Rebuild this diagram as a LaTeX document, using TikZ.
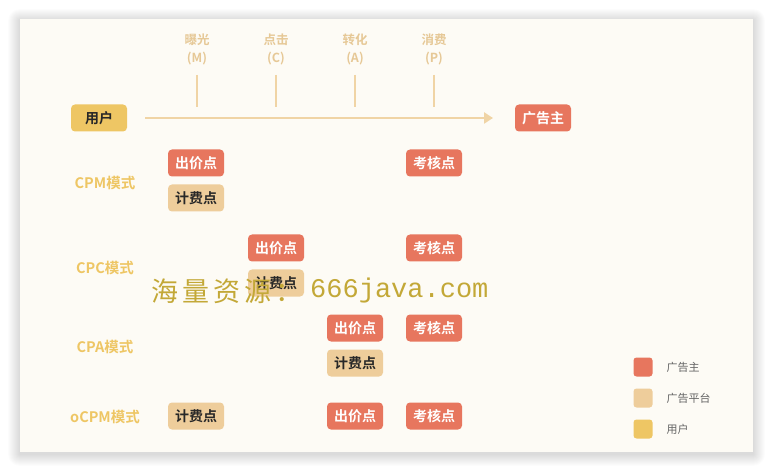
\documentclass[tikz,border=0pt]{standalone}
\usepackage{fontspec}
\setmainfont{Noto Sans CJK SC}
\newfontfamily\cjkb{Noto Sans CJK SC}[BoldFont={* Bold}]
\newfontfamily\wmmono{Liberation Mono}
\usetikzlibrary{arrows.meta}
\definecolor{adred}{RGB}{231,118,94}
\definecolor{adtan}{RGB}{238,205,155}
\definecolor{aduser}{RGB}{238,198,100}
\definecolor{cardbg}{RGB}{253,251,245}
\definecolor{toptxt}{RGB}{230,200,150}
\definecolor{arrowc}{RGB}{240,212,165}
\definecolor{legtxt}{RGB}{100,100,100}
\definecolor{darktxt}{RGB}{40,40,40}
\definecolor{wmcol}{RGB}{195,168,55}
\tikzset{
  tag/.style={rounded corners=4pt, minimum width=56pt, minimum height=27pt, inner sep=0pt, font=\cjkb\bfseries\fontsize{14}{14}\selectfont},
  redtag/.style={tag, fill=adred, text=white},
  tantag/.style={tag, fill=adtan, text=darktxt},
  usertag/.style={tag, fill=aduser, text=darktxt},
  rowlab/.style={text=aduser, font=\cjkb\bfseries\fontsize{14.5}{14.5}\selectfont},
  toplab/.style={text=toptxt, align=center, font=\cjkb\bfseries\fontsize{12.5}{18}\selectfont},
  tick/.style={draw=arrowc, line width=1.6pt},
  legsq/.style={rounded corners=3pt, minimum size=19pt, inner sep=0pt},
  legtext/.style={text=legtxt, anchor=west, font=\cjkb\fontsize{11}{11}\selectfont},
}
\begin{document}
\begin{tikzpicture}[x=1pt,y=-1pt]
\useasboundingbox (0,0) rectangle (774,473);
\fill[white] (0,0) rectangle (774,473);
% shadow
\foreach \d in {1,2,...,12}{
  \fill[black,opacity=0.012,rounded corners=\d pt] (20-\d,19-\d+2) rectangle (753+\d,452+\d+2);
}
\fill[cardbg] (20,19) rectangle (753,452);
% top labels
\node[toplab] (tm) at (197,49) {曝光\\(M)};
\node[toplab] (tc) at (276,49) {点击\\(C)};
\node[toplab] (ta) at (355,49) {转化\\(A)};
\node[toplab] (tp) at (434,49) {消费\\(P)};
\foreach \x/\n in {197/m,276/c,355/a,434/p}{
  \coordinate (t\n1) at (\x,75); \coordinate (t\n2) at (\x,107);
  \draw[tick] (t\n1) -- (t\n2);
}
% main line
\node[usertag] (user) at (99,118) {用户};
\node[redtag] (adv) at (543,118) {广告主};
\coordinate (as) at (145,118);
\coordinate (ae) at (493,118);
\draw[draw=arrowc, line width=2.2pt, -{Triangle[length=9pt,width=11pt]}] (as) -- (ae);
% rows
\node[rowlab] (cpm) at (105,183) {CPM模式};
\node[rowlab] (cpc) at (105,268) {CPC模式};
\node[rowlab] (cpa) at (105,347) {CPA模式};
\node[rowlab] (ocpm) at (105,417) {oCPM模式};
% CPM
\node[redtag] (cpmbid) at (196,163) {出价点};
\node[tantag] (cpmfee) at (196,198) {计费点};
\node[redtag] (cpmchk) at (434,163) {考核点};
% CPC
\node[redtag] (cpcbid) at (276,248) {出价点};
\node[tantag] (cpcfee) at (276,283) {计费点};
\node[redtag] (cpcchk) at (434,248) {考核点};
% CPA
\node[redtag] (cpabid) at (355,328) {出价点};
\node[tantag] (cpafee) at (355,363) {计费点};
\node[redtag] (cpachk) at (434,328) {考核点};
% oCPM
\node[tantag] (ocfee) at (196,416) {计费点};
\node[redtag] (ocbid) at (355,416) {出价点};
\node[redtag] (occhk) at (434,416) {考核点};
% legend
\node[legsq, fill=adred] (l1) at (643,367) {};
\node[legsq, fill=adtan] (l2) at (643,398) {};
\node[legsq, fill=aduser] (l3) at (643,429) {};
\node[legtext] (l1t) at (663,367) {广告主};
\node[legtext] (l2t) at (663,398) {广告平台};
\node[legtext] (l3t) at (663,429) {用户};
% watermark
\node[text=wmcol, anchor=west, inner sep=0pt, font=\fontsize{27}{27}\selectfont] (wm) at (151,291) {海\hspace{4pt}量\hspace{4pt}资\hspace{4pt}源\hspace{4pt}：};
\node[text=wmcol, anchor=west, inner sep=0pt, font=\wmmono\fontsize{27}{27}\selectfont] (wm2) at (310,291) {666java.com};
\end{tikzpicture}
\end{document}
